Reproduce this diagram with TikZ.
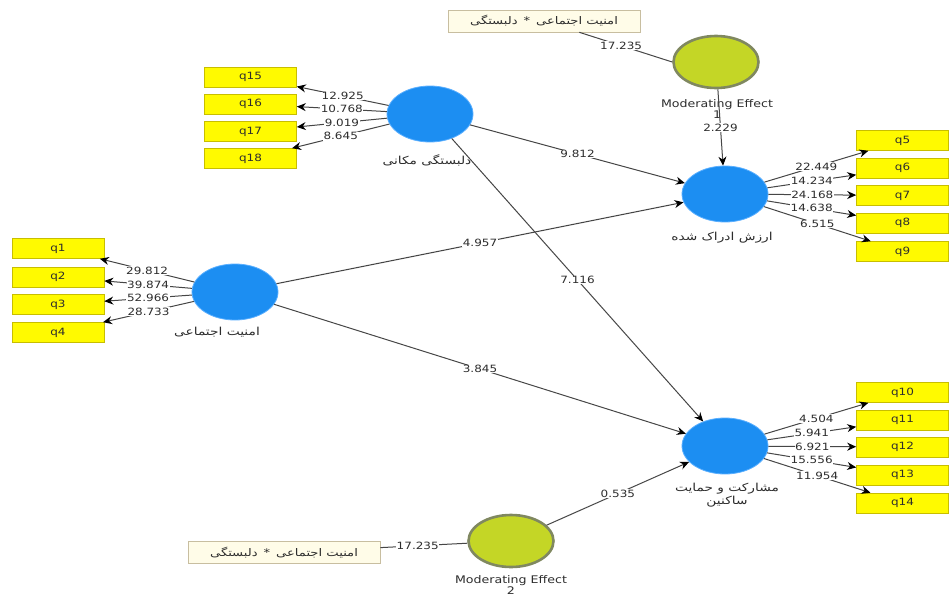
\documentclass[tikz,border=0pt]{standalone}
\usepackage{fontspec}
\setmainfont{DejaVu Sans}[FakeStretch=1.2]
\newfontfamily\fa{DejaVu Sans}[Script=Arabic,FakeStretch=1.25]
\TeXXeTstate=1
\usetikzlibrary{shapes.geometric,arrows.meta}
\definecolor{lv}{RGB}{28,142,242}
\definecolor{lvedge}{RGB}{90,175,255}
\definecolor{modg}{RGB}{196,214,38}
\definecolor{modedge}{RGB}{128,136,96}
\definecolor{indy}{RGB}{255,250,0}
\definecolor{indedge}{RGB}{200,190,0}
\definecolor{tagfill}{RGB}{255,252,232}
\definecolor{tagedge}{RGB}{200,190,160}
\definecolor{linec}{RGB}{70,70,70}
\definecolor{txt}{RGB}{45,45,45}
\begin{document}
\begin{tikzpicture}[x=1pt,y=-1pt,
  latent/.style={ellipse, fill=lv, draw=lvedge, line width=0.8pt, minimum width=86pt, minimum height=56pt, inner sep=0pt},
  moder/.style={ellipse, fill=modg, draw=modedge, line width=2.6pt, minimum width=85pt, minimum height=52pt, inner sep=0pt},
  ind/.style={rectangle, fill=indy, draw=indedge, line width=0.6pt, minimum width=92pt, minimum height=20pt, inner sep=0pt, font=\fontsize{10}{12}\selectfont, text=txt},
  tagbox/.style={rectangle, fill=tagfill, draw=tagedge, line width=0.6pt, minimum width=192pt, minimum height=22pt, inner sep=0pt, font=\fa\fontsize{10.5}{12}\selectfont, text=txt},
  lbl/.style={font=\fontsize{10}{12}\selectfont, text=txt, fill=white, inner sep=0.6pt},
  plbl/.style={font=\fa\fontsize{11}{13}\selectfont, text=txt, align=center, inner sep=0pt},
  mlbl/.style={font=\fontsize{10.5}{9.5}\selectfont, text=txt, align=center, inner sep=0pt},
  link/.style={draw=linec, line width=1pt, -{Stealth[length=9pt,width=8pt,color=black]}},
  plain/.style={draw=linec, line width=1pt}
]
\useasboundingbox (0,0) rectangle (950,597);
\fill[white] (0,0) rectangle (950,597);

% indicator boxes
\node[ind] (q15) at (250.5,77) {q15};
\node[ind] (q16) at (250.5,104) {q16};
\node[ind] (q17) at (250.5,131.5) {q17};
\node[ind] (q18) at (250.5,158.5) {q18};
\node[ind] (q1) at (58,248.5) {q1};
\node[ind] (q2) at (58,277) {q2};
\node[ind] (q3) at (58,304.5) {q3};
\node[ind] (q4) at (58,332.5) {q4};
\node[ind] (q5) at (902.5,140.5) {q5};
\node[ind] (q6) at (902.5,168) {q6};
\node[ind] (q7) at (902.5,195.5) {q7};
\node[ind] (q8) at (902.5,223) {q8};
\node[ind] (q9) at (902.5,251.5) {q9};
\node[ind] (q10) at (902.5,392.5) {q10};
\node[ind] (q11) at (902.5,420) {q11};
\node[ind] (q12) at (902.5,447) {q12};
\node[ind] (q13) at (902.5,475) {q13};
\node[ind] (q14) at (902.5,503) {q14};

% latent variables
\node[latent] (A) at (430,114) {};
\node[latent] (B) at (235,292) {};
\node[latent] (C) at (725,194) {};
\node[latent] (D) at (725,446) {};
\node[moder] (ME1) at (716,62) {};
\node[moder] (ME2) at (511,541) {};

% interaction term boxes
\node[tagbox] (T1) at (544,21) {\beginR امنیت اجتماعی \,*\, دلبستگی\endR};
\node[tagbox] (T2) at (284,552.5) {\beginR امنیت اجتماعی \,*\, دلبستگی\endR};

% construct labels
\node[plbl] (Alab) at (427,160) {\beginR دلبستگی مکانی\endR};
\node[plbl] (Blab) at (217,332) {\beginR امنیت اجتماعی\endR};
\node[plbl] (Clab) at (722,238) {\beginR ارزش ادراک شده\endR};
\node[plbl] (Dlab) at (727,495.5) {\beginR مشارکت و حمایت\endR\\\beginR ساکنین\endR};
\node[mlbl] (ME1lab) at (717,109) {Moderating Effect\\1};
\node[mlbl] (ME2lab) at (511,585) {Moderating Effect\\2};

% outer loadings
\draw[link] (A) -- node[lbl]{12.925} (q15);
\draw[link] (A) -- node[lbl]{10.768} (q16);
\draw[link] (A) -- node[lbl]{9.019} (q17);
\draw[link] (A) -- node[lbl]{8.645} (q18);
\draw[link] (B) -- node[lbl]{29.812} (q1);
\draw[link] (B) -- node[lbl]{39.874} (q2);
\draw[link] (B) -- node[lbl]{52.966} (q3);
\draw[link] (B) -- node[lbl]{28.733} (q4);
\draw[link] (C) -- node[lbl]{22.449} (q5);
\draw[link] (C) -- node[lbl]{14.234} (q6);
\draw[link] (C) -- node[lbl]{24.168} (q7);
\draw[link] (C) -- node[lbl]{14.638} (q8);
\draw[link] (C) -- node[lbl]{6.515} (q9);
\draw[link] (D) -- node[lbl]{4.504} (q10);
\draw[link] (D) -- node[lbl]{5.941} (q11);
\draw[link] (D) -- node[lbl]{6.921} (q12);
\draw[link] (D) -- node[lbl]{15.556} (q13);
\draw[link] (D) -- node[lbl]{11.954} (q14);

% structural paths
\draw[link] (A) -- node[lbl]{9.812} (C);
\draw[link] (B) -- node[lbl]{4.957} (C);
\draw[link] (A) -- node[lbl]{7.116} (D);
\draw[link] (B) -- node[lbl]{3.845} (D);
\draw[link] (ME2) -- node[lbl]{0.535} (D);
\draw[link] (ME1) -- node[lbl]{2.229} (C);
\draw[plain] (T1) -- node[lbl, pos=0.45]{17.235} (ME1.west);
\draw[plain] (T2) -- node[lbl, pos=0.43]{17.235} (ME2);
\end{tikzpicture}
\end{document}
